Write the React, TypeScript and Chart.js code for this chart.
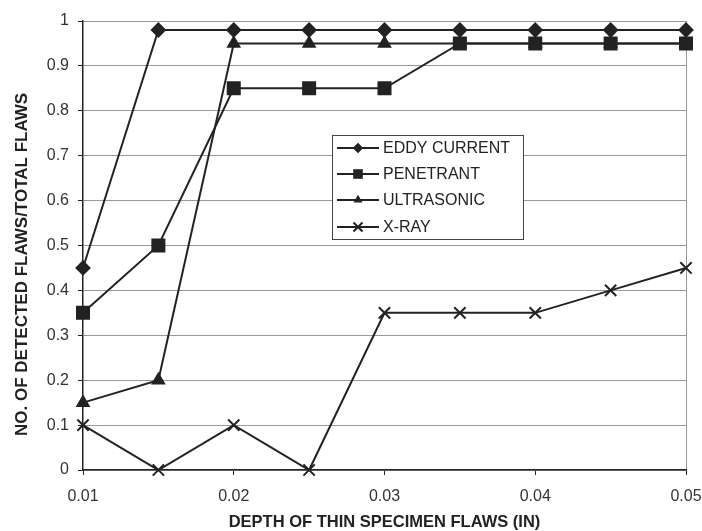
import React, { useEffect, useRef } from "react";
import { Chart, registerables } from "chart.js";

Chart.register(...registerables);

const depths = [0.01, 0.015, 0.02, 0.025, 0.03, 0.035, 0.04, 0.045, 0.05];
const eddyCurrent = [0.45, 0.98, 0.98, 0.98, 0.98, 0.98, 0.98, 0.98, 0.98];
const penetrant = [0.35, 0.5, 0.85, 0.85, 0.85, 0.95, 0.95, 0.95, 0.95];
const ultrasonic = [0.15, 0.2, 0.95, 0.95, 0.95, 0.95, 0.95, 0.95, 0.95];
const xRay = [0.1, 0, 0.1, 0, 0.35, 0.35, 0.35, 0.4, 0.45];
const xTicks = [0.01, 0.02, 0.03, 0.04, 0.05];
const yTicks = [0, 0.1, 0.2, 0.3, 0.4, 0.5, 0.6, 0.7, 0.8, 0.9, 1];
const seriesNames = ["EDDY CURRENT", "PENETRANT", "ULTRASONIC", "X-RAY"];
const seriesStyles = ["rectRot", "rect", "triangle", "crossRot"];
const seriesRadii = [6.5, 8.5, 6.5, 8];

const INK = "#222";
const FONT = "'Liberation Sans', Arial, sans-serif";

function marker(ctx: CanvasRenderingContext2D, style: string, r: number, x: number, y: number) {
  ctx.beginPath();
  if (style === "rectRot") {
    ctx.moveTo(x, y - r);
    ctx.lineTo(x + r, y);
    ctx.lineTo(x, y + r);
    ctx.lineTo(x - r, y);
    ctx.closePath();
    ctx.fill();
  } else if (style === "rect") {
    const s = r * Math.SQRT1_2;
    ctx.rect(x - s, y - s, 2 * s, 2 * s);
    ctx.fill();
  } else if (style === "triangle") {
    const side = (r * 3) / Math.sqrt(3);
    const h = (side * Math.sqrt(3)) / 2;
    ctx.moveTo(x, y - (2 * h) / 3);
    ctx.lineTo(x + side / 2, y + h / 3);
    ctx.lineTo(x - side / 2, y + h / 3);
    ctx.closePath();
    ctx.fill();
  } else {
    const s = r * Math.SQRT1_2;
    ctx.moveTo(x - s, y - s);
    ctx.lineTo(x + s, y + s);
    ctx.moveTo(x + s, y - s);
    ctx.lineTo(x - s, y + s);
    ctx.stroke();
  }
}

const legendBox = {
  id: "legendBox",
  afterDatasetsDraw(chart: any) {
    const ctx = chart.ctx;
    const x0 = 332, y0 = 135, w = 191, h = 104;
    ctx.save();
    ctx.fillStyle = "#fff";
    ctx.fillRect(x0, y0, w, h);
    ctx.strokeStyle = "#444";
    ctx.lineWidth = 1;
    ctx.strokeRect(x0 + 0.5, y0 + 0.5, w, h);
    const rows = [148, 174, 200, 227];
    chart.data.datasets.forEach((ds: any, i: number) => {
      const y = rows[i];
      ctx.strokeStyle = INK;
      ctx.lineWidth = 2;
      ctx.beginPath();
      ctx.moveTo(337, y);
      ctx.lineTo(379, y);
      ctx.stroke();
      ctx.fillStyle = INK;
      marker(ctx, ds.pointStyle, ds.pointRadius * 0.8, 358, y);
      ctx.fillStyle = INK;
      ctx.font = `16px ${FONT}`;
      ctx.textBaseline = "middle";
      ctx.textAlign = "left";
      ctx.fillText(ds.label, 383, y + 1);
    });
    ctx.restore();
  },
};

export default function App() {
  const ref = useRef<HTMLCanvasElement>(null);
  useEffect(() => {
    document.body.style.margin = "0";
    const data = [eddyCurrent, penetrant, ultrasonic, xRay];
    const chart = new Chart(ref.current!, {
      type: "line",
      data: {
        datasets: data.map((vals, i) => ({
          label: seriesNames[i],
          data: depths.map((d, j) => ({ x: d, y: vals[j] })),
          borderColor: INK,
          backgroundColor: INK,
          borderWidth: 2,
          pointStyle: seriesStyles[i] as any,
          pointRadius: seriesRadii[i],
          pointBorderWidth: 2,
          pointBackgroundColor: INK,
          pointBorderColor: INK,
          tension: 0,
          clip: false as any,
        })),
      },
      options: {
        animation: false,
        responsive: false,
        layout: { padding: { left: 0, right: 0, top: 21, bottom: 0 } },
        plugins: { legend: { display: false }, tooltip: { enabled: false } },
        scales: {
          x: {
            type: "linear",
            min: 0.01,
            max: 0.05,
            afterBuildTicks: (s: any) => {
              s.ticks = xTicks.map((v) => ({ value: v }));
            },
            afterFit: (s: any) => {
              s.height = 61;
              s.paddingRight = 16;
            },
            ticks: {
              color: "#333",
              font: { family: FONT, size: 16 },
              callback: (v: any) => Number(v).toFixed(2),
              padding: 12,
              maxRotation: 0,
            },
            grid: {
              color: (c: any) => (c.tick && c.tick.value === 0.05 ? "#999" : "rgba(0,0,0,0)"),
              tickColor: INK,
              tickLength: 5,
              drawOnChartArea: true,
            },
            border: { display: true, color: INK, width: 1.5 },
            title: {
              display: true,
              text: "DEPTH OF THIN SPECIMEN FLAWS (IN)",
              color: INK,
              font: { family: FONT, size: 16.5, weight: "bold" },
              padding: { top: 0, bottom: -1 },
            },
          },
          y: {
            min: 0,
            max: 1,
            afterBuildTicks: (s: any) => {
              s.ticks = yTicks.map((v) => ({ value: v }));
            },
            afterFit: (s: any) => {
              s.width = 83;
            },
            ticks: {
              color: "#333",
              font: { family: FONT, size: 16 },
              callback: (v: any) => String(Number(Number(v).toFixed(1))),
              padding: 9,
            },
            grid: {
              color: "#999",
              tickColor: INK,
              tickLength: 5,
            },
            border: { display: true, color: INK, width: 1.5 },
            title: {
              display: true,
              text: "NO. OF DETECTED FLAWS/TOTAL FLAWS        ",
              color: INK,
              font: { family: FONT, size: 17, weight: "bold" },
              padding: { top: 12, bottom: 0 },
            },
          },
        },
      },
      plugins: [legendBox],
    });
    return () => chart.destroy();
  }, []);
  return <canvas ref={ref} width={702} height={531} style={{ display: "block" }} />;
}
